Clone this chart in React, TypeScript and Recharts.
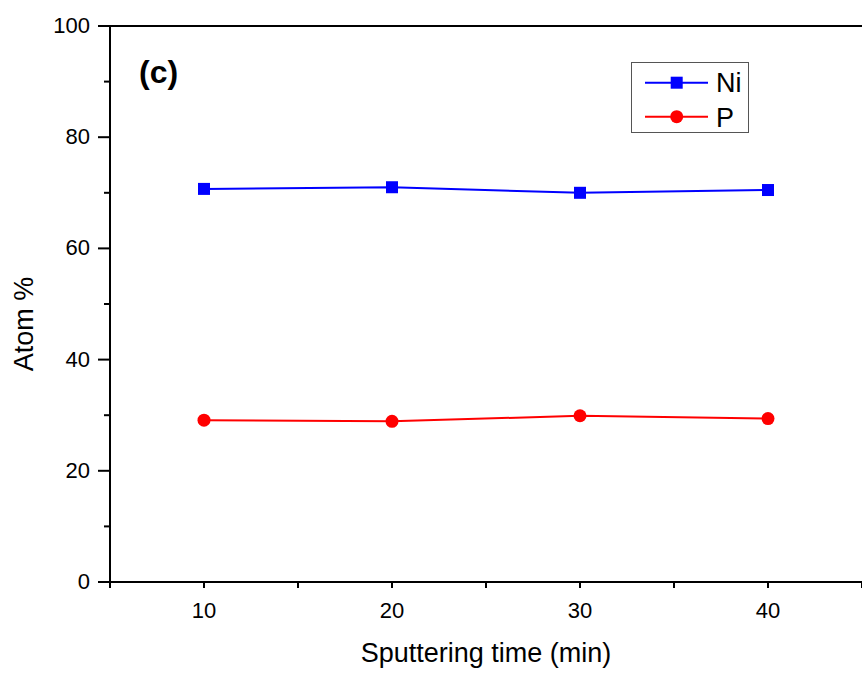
import React from 'react';
import { LineChart, Line, XAxis, YAxis, Legend, ReferenceLine, Label } from 'recharts';

const times = [10, 20, 30, 40];
const niValues = [70.7, 71.0, 70.0, 70.5];
const pValues = [29.1, 28.9, 29.9, 29.4];
const xTicks = [5, 10, 15, 20, 25, 30, 35, 40, 45];
const xMajor = [10, 20, 30, 40];
const yTicks = [0, 10, 20, 30, 40, 50, 60, 70, 80, 90, 100];
const yMajor = [0, 20, 40, 60, 80, 100];

const data = times.map((t, i) => ({ time: t, Ni: niValues[i], P: pValues[i] }));

const FONT = '"Liberation Sans", Arial, Helvetica, sans-serif';

const XTick = (props: any) => {
  const { x, y, payload } = props;
  const major = xMajor.includes(payload.value);
  return (
    <g>
      <line x1={x} x2={x} y1={y} y2={y + 6} stroke="#000" strokeWidth={2} />
      {major && (
        <text x={x} y={y + 36} textAnchor="middle" fontSize={22} fontFamily={FONT} fill="#000">
          {payload.value}
        </text>
      )}
    </g>
  );
};

const YTick = (props: any) => {
  const { x, y, payload } = props;
  const major = yMajor.includes(payload.value);
  return (
    <g>
      <line x1={x - (major ? 12 : 6)} x2={x} y1={y} y2={y} stroke="#000" strokeWidth={2} />
      {major && (
        <text x={x - 20} y={y + 7} textAnchor="end" fontSize={22} fontFamily={FONT} fill="#000">
          {payload.value}
        </text>
      )}
    </g>
  );
};

const SquareDot = (props: any) => {
  const { cx, cy, key } = props;
  if (cx == null || cy == null) return <g key={key} />;
  return <rect key={key} x={cx - 6} y={cy - 6} width={12} height={12} fill="#0000ff" />;
};

const CircleDot = (props: any) => {
  const { cx, cy, key } = props;
  if (cx == null || cy == null) return <g key={key} />;
  return <circle key={key} cx={cx} cy={cy} r={6.5} fill="#ff0000" />;
};

const LegendContent = (props: any) => {
  const payload = props.payload || [];
  const rows = [
    { lineY: 20.7, textY: 30 },
    { lineY: 54.7, textY: 65 },
  ];
  return (
    <svg width={118} height={71} style={{ display: 'block' }}>
      <rect x={0.5} y={0.5} width={117} height={70} fill="#fff" stroke="#555" strokeWidth={1} />
      {payload.map((p: any, i: number) => {
        const r = rows[i] || rows[0];
        const color = p.color;
        return (
          <g key={p.value}>
            <line x1={14} x2={77} y1={r.lineY} y2={r.lineY} stroke={color} strokeWidth={2} />
            {i === 0 ? (
              <rect x={45.7 - 6} y={r.lineY - 6} width={12} height={12} fill={color} />
            ) : (
              <circle cx={45.7} cy={r.lineY} r={6.5} fill={color} />
            )}
            <text x={85} y={r.textY} fontSize={27} fontFamily={FONT} fill="#000">
              {p.value}
            </text>
          </g>
        );
      })}
    </svg>
  );
};

export default function App() {
  return (
    <div style={{ position: 'absolute', left: 0, top: 0, background: '#fff' }}>
      <LineChart width={862} height={673} data={data} margin={{ top: 26, right: 0, bottom: 0, left: 0 }}>
        <XAxis
          dataKey="time"
          type="number"
          domain={[5, 45]}
          ticks={xTicks}
          interval={0}
          height={91}
          tickSize={0}
          tickMargin={0}
          tickLine={false}
          tick={<XTick />}
          axisLine={{ stroke: '#000', strokeWidth: 2 }}
        >
          <Label
            content={(p: any) => {
              const vb = p.viewBox || {};
              return (
                <text
                  x={vb.x + vb.width / 2}
                  y={vb.y + 80}
                  textAnchor="middle"
                  fontSize={27}
                  fontFamily={FONT}
                  fill="#000"
                >
                  Sputtering time (min)
                </text>
              );
            }}
          />
        </XAxis>
        <YAxis
          type="number"
          domain={[0, 100]}
          ticks={yTicks}
          interval={0}
          width={110}
          tickSize={0}
          tickMargin={0}
          tickLine={false}
          tick={<YTick />}
          axisLine={{ stroke: '#000', strokeWidth: 2 }}
        >
          <Label
            content={(p: any) => {
              const vb = p.viewBox || {};
              const cx = vb.x + 33;
              const cy = vb.y + vb.height / 2 + 20;
              return (
                <text
                  x={cx}
                  y={cy}
                  transform={`rotate(-90 ${cx} ${cy})`}
                  textAnchor="middle"
                  fontSize={27}
                  fontFamily={FONT}
                  fill="#000"
                >
                  Atom %
                </text>
              );
            }}
          />
        </YAxis>
        <ReferenceLine
          y={100}
          stroke="#000"
          strokeWidth={2}
          label={(p: any) => {
            const vb = p.viewBox || {};
            return (
              <text x={vb.x + 29} y={vb.y + 57} fontSize={32} fontWeight="bold" fontFamily={FONT} fill="#000">
                (c)
              </text>
            );
          }}
        />
        <Legend
          layout="vertical"
          align="center"
          verticalAlign="middle"
          content={<LegendContent />}
          wrapperStyle={{ position: 'absolute', left: 631, top: 62, width: 118, height: 71, margin: 0 }}
        />
        <Line
          type="linear"
          dataKey="Ni"
          name="Ni"
          stroke="#0000ff"
          strokeWidth={2}
          dot={<SquareDot />}
          activeDot={false}
          isAnimationActive={false}
          legendType="square"
        />
        <Line
          type="linear"
          dataKey="P"
          name="P"
          stroke="#ff0000"
          strokeWidth={2}
          dot={<CircleDot />}
          activeDot={false}
          isAnimationActive={false}
          legendType="circle"
        />
      </LineChart>
    </div>
  );
}
